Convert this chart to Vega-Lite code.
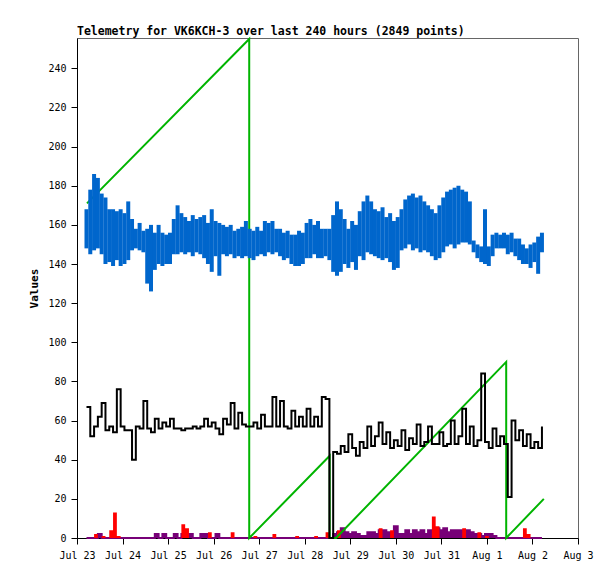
{
  "$schema": "https://vega.github.io/schema/vega-lite/v6.json",
  "description": "Telemetry for VK6KCH-3",
  "width": 501,
  "height": 500,
  "autosize": {"type": "none"},
  "padding": {"left": 77, "top": 38, "right": 37, "bottom": 41},
  "background": "white",
  "title": {
    "text": "Telemetry for VK6KCH-3 over last 240 hours (2849 points)",
    "anchor": "start",
    "frame": "group",
    "font": "DejaVu Sans Mono",
    "fontSize": 11.5,
    "fontWeight": "bold",
    "color": "black",
    "offset": -3
  },
  "config": {
    "view": {"stroke": "#666666", "strokeWidth": 1},
    "axis": {
      "domainColor": "black",
      "tickColor": "black",
      "labelColor": "black",
      "titleColor": "black",
      "labelFont": "DejaVu Sans Mono",
      "labelFontSize": 10,
      "titleFont": "DejaVu Sans Mono",
      "titleFontSize": 11,
      "titleFontWeight": "bold",
      "grid": false,
      "tickSize": 6
    }
  },
  "datasets": {
    "tele": [
      {"t": "2025-07-23T05:00", "lo": 148, "hi": 168, "k": 67, "r": 0, "p": 0},
      {"t": "2025-07-23T07:00", "lo": 145, "hi": 178, "k": 52, "r": 0, "p": 0},
      {"t": "2025-07-23T09:00", "lo": 147, "hi": 186, "k": 57, "r": 2, "p": 0},
      {"t": "2025-07-23T11:00", "lo": 148, "hi": 184, "k": 62, "r": 0, "p": 2},
      {"t": "2025-07-23T13:00", "lo": 145, "hi": 176, "k": 69, "r": 1, "p": 0},
      {"t": "2025-07-23T15:00", "lo": 140, "hi": 174, "k": 55, "r": 0, "p": 0},
      {"t": "2025-07-23T17:00", "lo": 141, "hi": 168, "k": 57, "r": 4, "p": 0},
      {"t": "2025-07-23T19:00", "lo": 139, "hi": 168, "k": 54, "r": 13, "p": 0},
      {"t": "2025-07-23T21:00", "lo": 142, "hi": 167, "k": 76, "r": 1, "p": 0},
      {"t": "2025-07-23T23:00", "lo": 139, "hi": 168, "k": 57, "r": 0, "p": 0},
      {"t": "2025-07-24T01:00", "lo": 140, "hi": 166, "k": 55, "r": 0, "p": 0},
      {"t": "2025-07-24T03:00", "lo": 142, "hi": 172, "k": 55, "r": 0, "p": 0},
      {"t": "2025-07-24T05:00", "lo": 147, "hi": 163, "k": 40, "r": 0, "p": 0},
      {"t": "2025-07-24T07:00", "lo": 148, "hi": 158, "k": 57, "r": 0, "p": 0},
      {"t": "2025-07-24T09:00", "lo": 147, "hi": 161, "k": 56, "r": 0, "p": 0},
      {"t": "2025-07-24T11:00", "lo": 146, "hi": 157, "k": 70, "r": 0, "p": 0},
      {"t": "2025-07-24T13:00", "lo": 130, "hi": 158, "k": 56, "r": 0, "p": 0},
      {"t": "2025-07-24T15:00", "lo": 126, "hi": 160, "k": 54, "r": 0, "p": 0},
      {"t": "2025-07-24T17:00", "lo": 137, "hi": 156, "k": 61, "r": 0, "p": 2},
      {"t": "2025-07-24T19:00", "lo": 140, "hi": 160, "k": 56, "r": 0, "p": 0},
      {"t": "2025-07-24T21:00", "lo": 139, "hi": 156, "k": 59, "r": 0, "p": 2},
      {"t": "2025-07-24T23:00", "lo": 140, "hi": 155, "k": 57, "r": 0, "p": 0},
      {"t": "2025-07-25T01:00", "lo": 140, "hi": 156, "k": 61, "r": 0, "p": 0},
      {"t": "2025-07-25T03:00", "lo": 145, "hi": 163, "k": 56, "r": 0, "p": 2},
      {"t": "2025-07-25T05:00", "lo": 145, "hi": 170, "k": 56, "r": 0, "p": 0},
      {"t": "2025-07-25T07:00", "lo": 146, "hi": 166, "k": 55, "r": 7, "p": 2},
      {"t": "2025-07-25T09:00", "lo": 145, "hi": 164, "k": 56, "r": 5, "p": 2},
      {"t": "2025-07-25T11:00", "lo": 146, "hi": 162, "k": 56, "r": 0, "p": 2},
      {"t": "2025-07-25T13:00", "lo": 144, "hi": 165, "k": 57, "r": 0, "p": 0},
      {"t": "2025-07-25T15:00", "lo": 146, "hi": 163, "k": 56, "r": 0, "p": 0},
      {"t": "2025-07-25T17:00", "lo": 145, "hi": 164, "k": 57, "r": 0, "p": 2},
      {"t": "2025-07-25T19:00", "lo": 143, "hi": 165, "k": 61, "r": 0, "p": 2},
      {"t": "2025-07-25T21:00", "lo": 140, "hi": 161, "k": 57, "r": 3, "p": 0},
      {"t": "2025-07-25T23:00", "lo": 136, "hi": 168, "k": 59, "r": 0, "p": 0},
      {"t": "2025-07-26T01:00", "lo": 144, "hi": 162, "k": 56, "r": 0, "p": 2},
      {"t": "2025-07-26T03:00", "lo": 134, "hi": 161, "k": 53, "r": 0, "p": 0},
      {"t": "2025-07-26T05:00", "lo": 145, "hi": 160, "k": 61, "r": 0, "p": 0},
      {"t": "2025-07-26T07:00", "lo": 144, "hi": 159, "k": 58, "r": 0, "p": 0},
      {"t": "2025-07-26T09:00", "lo": 145, "hi": 160, "k": 69, "r": 3, "p": 0},
      {"t": "2025-07-26T11:00", "lo": 143, "hi": 157, "k": 56, "r": 0, "p": 0},
      {"t": "2025-07-26T13:00", "lo": 144, "hi": 158, "k": 64, "r": 0, "p": 0},
      {"t": "2025-07-26T15:00", "lo": 143, "hi": 159, "k": 58, "r": 0, "p": 0},
      {"t": "2025-07-26T17:00", "lo": 144, "hi": 162, "k": 57, "r": 0, "p": 0},
      {"t": "2025-07-26T19:00", "lo": 143, "hi": 158, "k": 57, "r": 0, "p": 0},
      {"t": "2025-07-26T21:00", "lo": 142, "hi": 157, "k": 59, "r": 1, "p": 0},
      {"t": "2025-07-26T23:00", "lo": 144, "hi": 159, "k": 56, "r": 0, "p": 0},
      {"t": "2025-07-27T01:00", "lo": 145, "hi": 157, "k": 63, "r": 0, "p": 0},
      {"t": "2025-07-27T03:00", "lo": 144, "hi": 162, "k": 57, "r": 0, "p": 0},
      {"t": "2025-07-27T05:00", "lo": 146, "hi": 161, "k": 57, "r": 0, "p": 0},
      {"t": "2025-07-27T07:00", "lo": 145, "hi": 162, "k": 72, "r": 2, "p": 0},
      {"t": "2025-07-27T09:00", "lo": 146, "hi": 158, "k": 57, "r": 0, "p": 0},
      {"t": "2025-07-27T11:00", "lo": 144, "hi": 158, "k": 70, "r": 0, "p": 0},
      {"t": "2025-07-27T13:00", "lo": 142, "hi": 156, "k": 57, "r": 0, "p": 0},
      {"t": "2025-07-27T15:00", "lo": 143, "hi": 157, "k": 56, "r": 0, "p": 0},
      {"t": "2025-07-27T17:00", "lo": 140, "hi": 155, "k": 65, "r": 0, "p": 0},
      {"t": "2025-07-27T19:00", "lo": 139, "hi": 155, "k": 57, "r": 1, "p": 0},
      {"t": "2025-07-27T21:00", "lo": 139, "hi": 157, "k": 62, "r": 0, "p": 0},
      {"t": "2025-07-27T23:00", "lo": 140, "hi": 156, "k": 57, "r": 0, "p": 0},
      {"t": "2025-07-28T01:00", "lo": 143, "hi": 161, "k": 66, "r": 0, "p": 0},
      {"t": "2025-07-28T03:00", "lo": 143, "hi": 163, "k": 57, "r": 0, "p": 0},
      {"t": "2025-07-28T05:00", "lo": 145, "hi": 160, "k": 62, "r": 1, "p": 0},
      {"t": "2025-07-28T07:00", "lo": 143, "hi": 162, "k": 57, "r": 0, "p": 0},
      {"t": "2025-07-28T09:00", "lo": 143, "hi": 158, "k": 72, "r": 0, "p": 0},
      {"t": "2025-07-28T11:00", "lo": 144, "hi": 158, "k": 71, "r": 3, "p": 0},
      {"t": "2025-07-28T13:00", "lo": 142, "hi": 158, "k": 0, "r": 0, "p": 0},
      {"t": "2025-07-28T15:00", "lo": 136, "hi": 165, "k": 44, "r": 0, "p": 2},
      {"t": "2025-07-28T17:00", "lo": 134, "hi": 172, "k": 43, "r": 4, "p": 3},
      {"t": "2025-07-28T19:00", "lo": 136, "hi": 168, "k": 47, "r": 0, "p": 5},
      {"t": "2025-07-28T21:00", "lo": 140, "hi": 163, "k": 44, "r": 0, "p": 3},
      {"t": "2025-07-28T23:00", "lo": 138, "hi": 158, "k": 53, "r": 0, "p": 2},
      {"t": "2025-07-29T01:00", "lo": 141, "hi": 162, "k": 46, "r": 0, "p": 3},
      {"t": "2025-07-29T03:00", "lo": 137, "hi": 160, "k": 42, "r": 0, "p": 2},
      {"t": "2025-07-29T05:00", "lo": 144, "hi": 167, "k": 49, "r": 0, "p": 1},
      {"t": "2025-07-29T07:00", "lo": 142, "hi": 172, "k": 46, "r": 0, "p": 1},
      {"t": "2025-07-29T09:00", "lo": 146, "hi": 175, "k": 57, "r": 0, "p": 3},
      {"t": "2025-07-29T11:00", "lo": 145, "hi": 172, "k": 47, "r": 0, "p": 3},
      {"t": "2025-07-29T13:00", "lo": 144, "hi": 168, "k": 52, "r": 0, "p": 2},
      {"t": "2025-07-29T15:00", "lo": 143, "hi": 167, "k": 59, "r": 5, "p": 4},
      {"t": "2025-07-29T17:00", "lo": 142, "hi": 169, "k": 48, "r": 0, "p": 4},
      {"t": "2025-07-29T19:00", "lo": 143, "hi": 164, "k": 54, "r": 0, "p": 3},
      {"t": "2025-07-29T21:00", "lo": 141, "hi": 166, "k": 46, "r": 4, "p": 3},
      {"t": "2025-07-29T23:00", "lo": 137, "hi": 162, "k": 50, "r": 0, "p": 6},
      {"t": "2025-07-30T01:00", "lo": 138, "hi": 164, "k": 47, "r": 0, "p": 2},
      {"t": "2025-07-30T03:00", "lo": 147, "hi": 168, "k": 55, "r": 0, "p": 2},
      {"t": "2025-07-30T05:00", "lo": 148, "hi": 173, "k": 45, "r": 0, "p": 4},
      {"t": "2025-07-30T07:00", "lo": 150, "hi": 175, "k": 51, "r": 0, "p": 2},
      {"t": "2025-07-30T09:00", "lo": 147, "hi": 176, "k": 48, "r": 0, "p": 4},
      {"t": "2025-07-30T11:00", "lo": 148, "hi": 174, "k": 58, "r": 0, "p": 3},
      {"t": "2025-07-30T13:00", "lo": 146, "hi": 175, "k": 47, "r": 0, "p": 4},
      {"t": "2025-07-30T15:00", "lo": 147, "hi": 172, "k": 49, "r": 0, "p": 2},
      {"t": "2025-07-30T17:00", "lo": 146, "hi": 170, "k": 57, "r": 0, "p": 4},
      {"t": "2025-07-30T19:00", "lo": 144, "hi": 168, "k": 48, "r": 11, "p": 4},
      {"t": "2025-07-30T21:00", "lo": 142, "hi": 166, "k": 48, "r": 6, "p": 5},
      {"t": "2025-07-30T23:00", "lo": 143, "hi": 170, "k": 54, "r": 0, "p": 4},
      {"t": "2025-07-31T01:00", "lo": 146, "hi": 174, "k": 47, "r": 0, "p": 5},
      {"t": "2025-07-31T03:00", "lo": 149, "hi": 177, "k": 48, "r": 0, "p": 3},
      {"t": "2025-07-31T05:00", "lo": 150, "hi": 178, "k": 60, "r": 0, "p": 4},
      {"t": "2025-07-31T07:00", "lo": 148, "hi": 179, "k": 48, "r": 0, "p": 4},
      {"t": "2025-07-31T09:00", "lo": 150, "hi": 180, "k": 52, "r": 0, "p": 4},
      {"t": "2025-07-31T11:00", "lo": 151, "hi": 178, "k": 66, "r": 5, "p": 4},
      {"t": "2025-07-31T13:00", "lo": 151, "hi": 177, "k": 48, "r": 0, "p": 4},
      {"t": "2025-07-31T15:00", "lo": 150, "hi": 172, "k": 57, "r": 0, "p": 3},
      {"t": "2025-07-31T17:00", "lo": 146, "hi": 152, "k": 47, "r": 0, "p": 2},
      {"t": "2025-07-31T19:00", "lo": 143, "hi": 150, "k": 50, "r": 3, "p": 2},
      {"t": "2025-07-31T21:00", "lo": 141, "hi": 149, "k": 84, "r": 0, "p": 1},
      {"t": "2025-07-31T23:00", "lo": 140, "hi": 168, "k": 49, "r": 1, "p": 2},
      {"t": "2025-08-01T01:00", "lo": 139, "hi": 149, "k": 46, "r": 0, "p": 2},
      {"t": "2025-08-01T03:00", "lo": 144, "hi": 155, "k": 56, "r": 0, "p": 1},
      {"t": "2025-08-01T05:00", "lo": 148, "hi": 156, "k": 47, "r": 0, "p": 0},
      {"t": "2025-08-01T07:00", "lo": 148, "hi": 155, "k": 52, "r": 0, "p": 0},
      {"t": "2025-08-01T09:00", "lo": 148, "hi": 156, "k": 48, "r": 0, "p": 0},
      {"t": "2025-08-01T11:00", "lo": 145, "hi": 155, "k": 21, "r": 0, "p": 0},
      {"t": "2025-08-01T13:00", "lo": 146, "hi": 156, "k": 60, "r": 0, "p": 0},
      {"t": "2025-08-01T15:00", "lo": 144, "hi": 153, "k": 50, "r": 0, "p": 0},
      {"t": "2025-08-01T17:00", "lo": 142, "hi": 153, "k": 55, "r": 0, "p": 0},
      {"t": "2025-08-01T19:00", "lo": 140, "hi": 150, "k": 47, "r": 5, "p": 0},
      {"t": "2025-08-01T21:00", "lo": 140, "hi": 148, "k": 53, "r": 2, "p": 0},
      {"t": "2025-08-01T23:00", "lo": 138, "hi": 150, "k": 46, "r": 0, "p": 0},
      {"t": "2025-08-02T01:00", "lo": 141, "hi": 151, "k": 49, "r": 0, "p": 0},
      {"t": "2025-08-02T03:00", "lo": 135, "hi": 154, "k": 46, "r": 0, "p": 0},
      {"t": "2025-08-02T05:00", "lo": 146, "hi": 156, "k": 57, "r": 0, "p": 0}
    ],
    "seq": [
      {"n": 1, "t": "2025-07-23T05:15", "s": 171},
      {"n": 2, "t": "2025-07-26T18:45", "s": 255},
      {"n": 3, "t": "2025-07-26T18:45", "s": 0},
      {"n": 4, "t": "2025-07-28T13:10", "s": 42},
      {"n": 5, "t": "2025-07-28T13:10", "s": 0},
      {"n": 6, "t": "2025-07-28T16:30", "s": 0},
      {"n": 7, "t": "2025-08-01T10:10", "s": 90},
      {"n": 8, "t": "2025-08-01T10:10", "s": 0},
      {"n": 9, "t": "2025-08-02T06:00", "s": 20}
    ]
  },
  "encoding": {
    "x": {
      "field": "t",
      "type": "temporal",
      "scale": {"domain": [{"year": 2025, "month": 7, "date": 23}, {"year": 2025, "month": 8, "date": 3}]},
      "axis": {
        "title": null,
        "format": "%b %-d",
        "tickCount": {"interval": "day", "step": 1},
        "labelPadding": 6,
        "labelOverlap": false,
        "labelFlush": false
      }
    }
  },
  "layer": [
    {
      "data": {"name": "tele"},
      "mark": {"type": "area", "color": "#770077", "opacity": 1, "interpolate": "step-after"},
      "encoding": {
        "y": {
          "field": "p",
          "type": "quantitative",
          "title": "Values",
          "scale": {"domain": [0, 255.5], "nice": false},
          "axis": {
            "values": [0, 20, 40, 60, 80, 100, 120, 140, 160, 180, 200, 220, 240],
            "labelPadding": 5,
            "titlePadding": 8
          }
        }
      }
    },
    {
      "data": {"name": "tele"},
      "mark": {"type": "line", "color": "#770077", "strokeWidth": 2, "interpolate": "step-after"},
      "encoding": {
        "y": {"field": "p", "type": "quantitative", "title": "Values"}
      }
    },
    {
      "data": {"name": "tele"},
      "mark": {"type": "area", "color": "#ff0000", "opacity": 1, "interpolate": "step-after"},
      "encoding": {
        "y": {"field": "r", "type": "quantitative", "title": "Values"}
      }
    },
    {
      "data": {"name": "seq"},
      "mark": {"type": "line", "color": "#00b400", "strokeWidth": 2},
      "encoding": {
        "y": {"field": "s", "type": "quantitative", "title": "Values"},
        "order": {"field": "n"}
      }
    },
    {
      "data": {"name": "tele"},
      "mark": {"type": "line", "color": "black", "strokeWidth": 2, "interpolate": "step-after"},
      "encoding": {
        "y": {"field": "k", "type": "quantitative", "title": "Values"}
      }
    },
    {
      "data": {"name": "tele"},
      "mark": {"type": "rule", "color": "#0066cc", "strokeWidth": 4},
      "encoding": {
        "y": {"field": "lo", "type": "quantitative", "title": "Values"},
        "y2": {"field": "hi"}
      }
    }
  ]
}
